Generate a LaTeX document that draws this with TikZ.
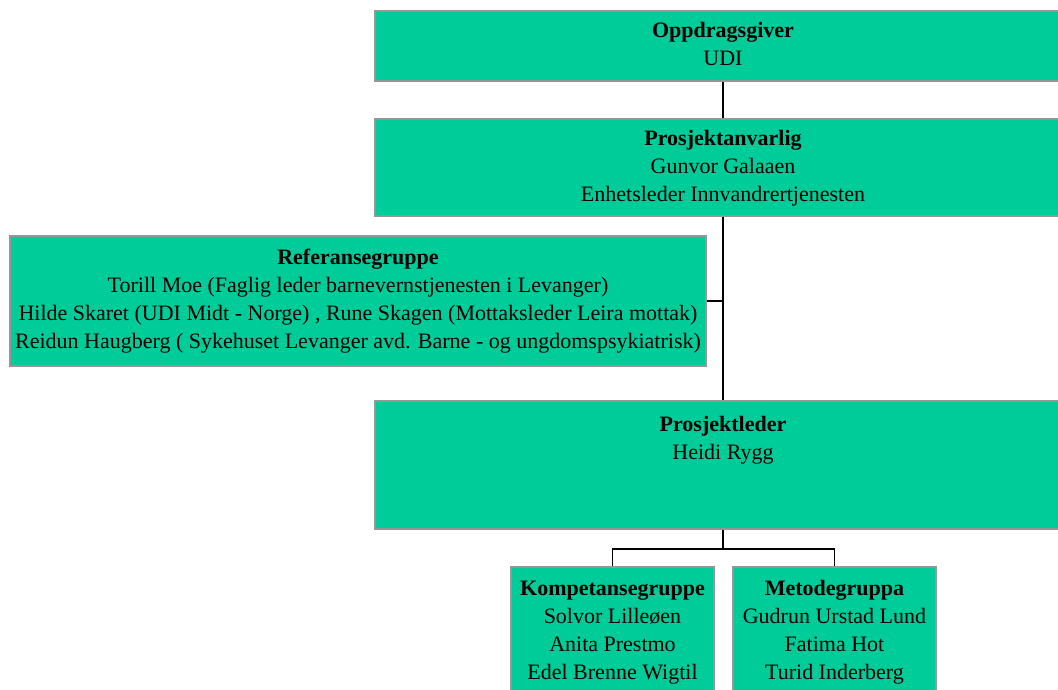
\documentclass[tikz,border=0pt]{standalone}
\usepackage{fontspec}
\setmainfont{Liberation Serif}
\usetikzlibrary{positioning}
\definecolor{boxgreen}{RGB}{0,204,153}
\definecolor{boxedge}{RGB}{150,150,150}

\begin{document}
\begin{tikzpicture}[x=1pt,y=-1pt,
  orgbox/.style={draw=boxedge,line width=2pt,fill=boxgreen,anchor=north,inner sep=0pt,
    font=\fontsize{22}{28}\selectfont},
  widebox/.style={orgbox,minimum width=696pt},
  smallbox/.style={orgbox,minimum width=203pt,minimum height=130pt},
  link/.style={draw=black,line width=1.3pt}]

\useasboundingbox (0,0) rectangle (1058,689);
\clip (0,0) rectangle (1058,689);

\node[widebox,minimum height=70pt] (opp) at (723,10){
\begin{tabular}{@{}c@{}}
\textbf{Oppdragsgiver} \\
UDI
\end{tabular}};
\node[widebox,minimum height=97pt] (ansv) at (723,118){
\begin{tabular}{@{}c@{}}
\textbf{Prosjektanvarlig} \\
Gunvor Galaaen \\
Enhetsleder Innvandrertjenesten
\end{tabular}};
\node[widebox,minimum height=130pt] (ref) at (358,235){
\begin{tabular}{@{}c@{}}
\textbf{Referansegruppe} \\
Torill Moe (Faglig leder barnevernstjenesten i Levanger) \\
Hilde Skaret (UDI Midt - Norge) , Rune Skagen (Mottaksleder Leira mottak) \\
Reidun Haugberg ( Sykehuset Levanger avd. Barne - og ungdomspsykiatrisk)
\end{tabular}};
\node[widebox,inner ysep=11pt,text depth=86.4pt] (leder) at (723,400){
\begin{tabular}[t]{@{}c@{}}
\textbf{Prosjektleder} \\
Heidi Rygg
\end{tabular}};
\node[smallbox] (komp) at (612.5,566){
\begin{tabular}{@{}c@{}}
\textbf{Kompetansegruppe} \\
Solvor Lilleøen \\
Anita Prestmo \\
Edel Brenne Wigtil
\end{tabular}};
\node[smallbox] (metode) at (834.5,566){
\begin{tabular}{@{}c@{}}
\textbf{Metodegruppa} \\
Gudrun Urstad Lund \\
Fatima Hot \\
Turid Inderberg
\end{tabular}};

\coordinate (fork) at ([yshift=-19pt]leder.south);

\draw[link] (opp.south) -- (ansv.north);
\draw[link] (ansv.south) -- (leder.north);
\draw[link] (ref.east) -- (ref.east -| ansv.south);
\draw[link] (leder.south) -- (fork);
\draw[link] (fork) -| (komp.north);
\draw[link] (fork) -| (metode.north);

\end{tikzpicture}
\end{document}
